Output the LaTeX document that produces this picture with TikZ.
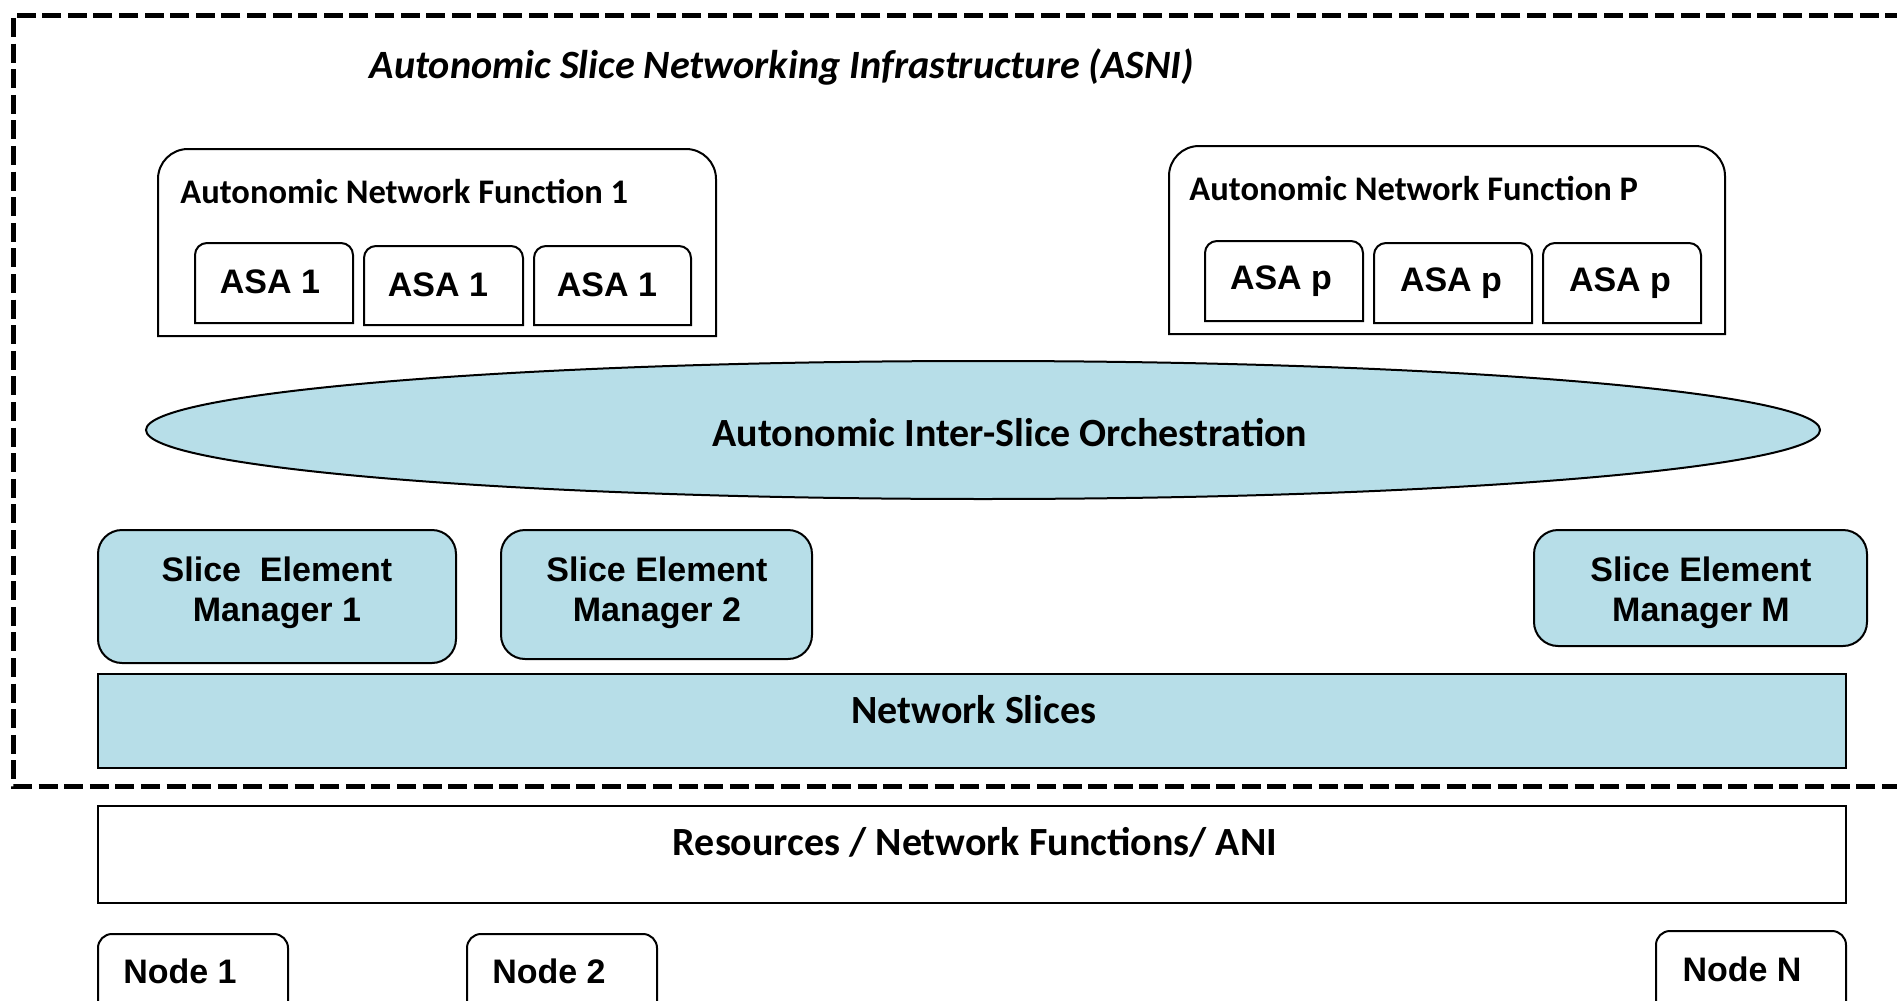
\documentclass[tikz,border=0pt]{standalone}
\usepackage{fontspec}
\setmainfont{Liberation Sans}
\newfontfamily\calfont{Carlito}
\usetikzlibrary{fit,shapes.geometric}
\definecolor{sliceblue}{HTML}{B7DEE8}
\newcommand{\topbox}[3]{%
  \draw[#3] (#1.south west) -- ([yshift=-#2]#1.north west)
    arc[start angle=180,end angle=90,radius=#2]
    -- ([xshift=-#2]#1.north east)
    arc[start angle=90,end angle=0,radius=#2]
    -- (#1.south east) -- cycle;}
\tikzset{
  boxline/.style={draw=black,line width=1pt},
  area/.style={inner sep=0pt,outer sep=0pt},
  arialtxt/.style={font=\fontsize{17}{20}\selectfont\bfseries,inner sep=0pt},
  semtxt/.style={font=\fontsize{17}{20}\selectfont\bfseries,align=center,inner sep=0pt},
  caltxt/.style={font=\calfont\fontsize{20}{24}\selectfont\bfseries,inner sep=0pt},
  anftxt/.style={font=\calfont\fontsize{17.25}{20}\selectfont\bfseries,inner sep=0pt,anchor=west},
  dashedbox/.style={line width=2.5pt,dash pattern=on 9.5pt off 3.3pt},
}
\begin{document}
\begin{tikzpicture}[x=0.5pt,y=-0.5pt]
\useasboundingbox (0,0) rectangle (1897,1001);
% outer dashed frame (open on the right, cut by the page)
\coordinate (dtr) at (1930,15);
\coordinate (dtl) at (13,15);
\coordinate (dbl) at (13,786);
\coordinate (dbr) at (1930,786);
\draw[dashedbox] (dtr) -- (dtl) -- (dbl) -- (dbr);
\node[font=\calfont\fontsize{20.1}{24}\selectfont\bfseries\itshape,inner sep=0pt] (title) at (782,67) {Autonomic Slice Networking Infrastructure (ASNI)};
% ANF 1
\node[area,fit={(158,149) (716,336)}] (anf1) {};
\topbox{anf1}{15pt}{boxline}
\node[anftxt] (anf1t) at (180,191) {Autonomic Network Function 1};
\node[area,fit={(195,243) (353,323)}] (asa1a) {};
\topbox{asa1a}{6pt}{boxline}
\node[area,fit={(364,246) (523,325)}] (asa1b) {};
\topbox{asa1b}{6pt}{boxline}
\node[area,fit={(534,246) (691,325)}] (asa1c) {};
\topbox{asa1c}{6pt}{boxline}
\node[arialtxt] (asa1at) at (270,282) {ASA 1};
\node[arialtxt] (asa1bt) at (438,285) {ASA 1};
\node[arialtxt] (asa1ct) at (607,285) {ASA 1};
% ANF P
\node[area,fit={(1169,146) (1725,334)}] (anfp) {};
\topbox{anfp}{15pt}{boxline}
\node[anftxt] (anfpt) at (1189,188) {Autonomic Network Function P};
\node[area,fit={(1205,241) (1363,321)}] (asapa) {};
\topbox{asapa}{6pt}{boxline}
\node[area,fit={(1374,243) (1532,323)}] (asapb) {};
\topbox{asapb}{6pt}{boxline}
\node[area,fit={(1543,243) (1701,323)}] (asapc) {};
\topbox{asapc}{6pt}{boxline}
\node[arialtxt] (asapat) at (1281,281) {ASA p};
\node[arialtxt] (asapbt) at (1451,283) {ASA p};
\node[arialtxt] (asapct) at (1620,283) {ASA p};
% orchestration ellipse
\node[ellipse,draw=black,line width=1pt,fill=sliceblue,minimum width=837pt,minimum height=69pt,inner sep=0pt] (orch) at (983,430) {};
\node[caltxt] (orcht) at (1010,433) {Autonomic Inter-Slice Orchestration};
% slice element managers
\node[area,fit={(98,530) (456,663)},boxline,fill=sliceblue,rounded corners=12pt] (sem1) {};
\node[semtxt] (sem1t) at (277,593) {Slice\ \ Element\\Manager 1};
\node[area,fit={(501,530) (812,659)},boxline,fill=sliceblue,rounded corners=12pt] (sem2) {};
\node[semtxt] (sem2t) at (657,593) {Slice Element\\Manager 2};
\node[area,fit={(1534,530) (1867,646)},boxline,fill=sliceblue,rounded corners=12pt] (semm) {};
\node[semtxt] (semmt) at (1701,593) {Slice Element\\Manager M};
% network slices
\node[area,fit={(98,674) (1846,768)},boxline,fill=sliceblue] (ns) {};
\node[caltxt] (nst) at (974,710) {Network Slices};
% resources
\node[area,fit={(98,806) (1846,903)},boxline] (res) {};
\node[caltxt] (rest) at (975,842) {Resources / Network Functions/ ANI};
% nodes
\node[area,fit={(98,934) (288,1015)}] (n1) {};
\topbox{n1}{7pt}{boxline}
\node[arialtxt] (n1t) at (180,971) {Node 1};
\node[area,fit={(467,934) (657,1015)}] (n2) {};
\topbox{n2}{7pt}{boxline}
\node[arialtxt] (n2t) at (549,971) {Node 2};
\node[area,fit={(1656,931) (1846,1015)}] (nn) {};
\topbox{nn}{7pt}{boxline}
\node[arialtxt] (nnt) at (1742,969) {Node N};
\end{tikzpicture}
\end{document}
